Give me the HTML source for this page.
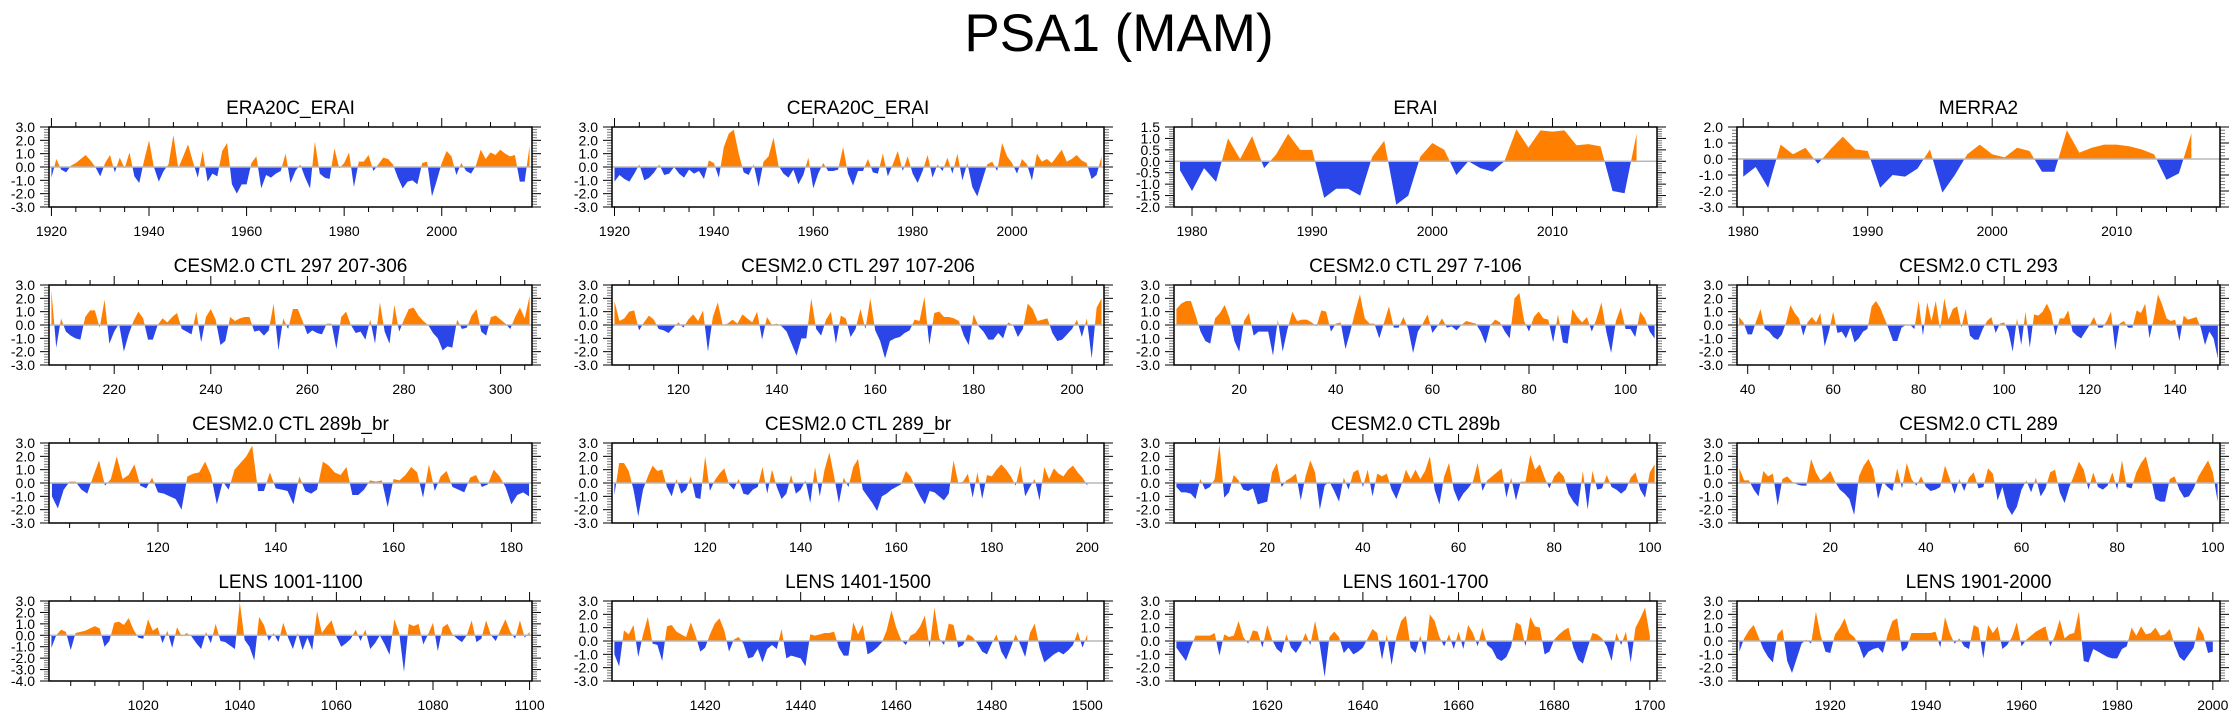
<!DOCTYPE html>
<html><head><meta charset="utf-8">
<style>
html,body{margin:0;padding:0;background:#fff;}
svg{display:block;font-family:"Liberation Sans",Arial,sans-serif;}
</style></head>
<body>
<svg id="chart" width="2238" height="719" viewBox="0 0 2238 719" xmlns="http://www.w3.org/2000/svg">
<rect width="2238" height="719" fill="#fff"/>
<text x="1119" y="51" font-size="53" text-anchor="middle" fill="#000">PSA1 (MAM)</text>
</svg>
<script>
// ---- data arrays ----
const titles = ["ERA20C_ERAI","CERA20C_ERAI","ERAI","MERRA2",
"CESM2.0 CTL 297 207-306","CESM2.0 CTL 297 107-206","CESM2.0 CTL 297 7-106","CESM2.0 CTL 293",
"CESM2.0 CTL 289b_br","CESM2.0 CTL 289_br","CESM2.0 CTL 289b","CESM2.0 CTL 289",
"LENS 1001-1100","LENS 1401-1500","LENS 1601-1700","LENS 1901-2000"];
const startYears = [1920,1920,1979,1980, 207,107,7,38, 102,101,1,1, 1001,1401,1601,1901];
const xRanges = [[1919.5,2018.5],[1919.5,2018.5],[1978.5,2018.7],[1979.5,2018.3],
[206.5,306.5],[106.5,206.5],[6.5,106.5],[37.5,150.5],
[101.5,183.5],[100.5,203.5],[0.5,101.5],[0.5,101.5],
[1000.5,1100.5],[1400.5,1503.5],[1600.5,1701.5],[1900.5,2001.5]];
const yRanges = [[-3,3,1],[-3,3,1],[-2,1.5,0.5],[-3,2,1],
[-3,3,1],[-3,3,1],[-3,3,1],[-3,3,1],
[-3,3,1],[-3,3,1],[-3,3,1],[-3,3,1],
[-4,3,1],[-3,3,1],[-3,3,1],[-3,3,1]];
const xTickSteps = [[20,5],[20,5],[10,2],[10,2],[20,5],[20,5],[20,5],[20,5],[20,5],[20,5],[20,5],[20,5],[20,5],[20,5],[20,5],[20,5]];

const s0 = [-0.8,0.6,-0.2,-0.4,0.1,0.3,0.6,0.9,0.5,0.0,-0.7,0.3,0.9,-0.4,0.7,-0.1,1.1,-0.7,-1.2,0.5,2.0,0.0,-1.1,-0.3,0.2,2.4,-0.1,0.8,1.7,0.4,-0.8,1.2,-1.1,-0.5,-0.7,1.2,1.8,-1.3,-2.0,-1.3,-1.3,0.3,0.8,-1.6,-0.6,-0.8,-0.5,-0.3,1.0,-1.2,-0.3,0.2,-0.8,-1.6,1.9,-0.5,-0.8,-0.9,1.4,-0.1,0.3,1.1,-1.5,0.4,0.4,0.9,-0.3,0.2,0.7,0.6,0.2,-0.8,-1.6,-1.1,-1.0,-1.3,0.3,0.4,-2.2,-1.0,0.3,1.2,0.8,-0.6,0.3,-0.3,-0.5,0.1,1.3,0.6,1.1,0.9,1.3,1.0,0.8,0.9,-1.1,-1.1,1.6];
const s1 = [-1.1,-0.6,-0.9,-1.1,-0.5,0.2,-1.0,-0.8,-0.4,0.2,-0.6,-0.5,0.0,-0.5,-0.8,-0.2,-0.5,-0.3,-0.9,0.5,
0.3,-0.8,1.5,2.5,2.8,1.0,-0.4,-0.6,0.2,-1.5,0.4,0.8,2.2,0.1,-0.5,-0.8,-0.2,-1.3,-0.6,0.7,
-1.6,-0.5,0.3,-0.3,-0.3,-0.2,1.5,-0.5,-1.4,-0.3,-0.3,0.6,-0.4,-0.5,1.0,-0.7,0.2,1.2,-0.3,0.8,
-0.5,-1.2,-0.3,0.9,-0.8,0.2,-0.3,0.7,-0.5,1.0,-1.0,0.3,-1.5,-2.2,-1.0,0.2,0.4,-0.3,1.8,0.8,
0.3,-0.5,0.6,0.2,-1.0,1.0,0.4,0.6,0.3,0.8,1.3,0.4,0.6,0.9,0.5,0.3,-0.9,-0.6,0.8];
const s2 = [-0.4,-1.3,-0.3,-0.9,1.0,0.1,1.1,-0.3,0.3,1.2,0.5,0.5,-1.6,-1.2,-1.2,-1.5,0.2,0.9,-1.9,-1.5,0.2,0.8,0.5,-0.6,0.0,-0.3,-0.45,0.0,1.4,0.6,1.35,1.3,1.35,0.7,0.75,0.65,-1.3,-1.4,1.2];
const s3 = [-1.1,-0.5,-1.8,0.9,0.3,0.7,-0.3,0.6,1.4,0.6,0.5,-1.8,-1.0,-1.1,-0.6,0.6,-2.1,-1.0,0.3,0.9,0.3,0.1,0.7,0.5,-0.8,-0.8,1.8,0.4,0.7,0.9,0.9,0.8,0.6,0.3,-1.3,-0.9,1.6];
const s4 = [2.6,-1.7,0.5,-0.5,-0.8,-1.0,-1.1,0.6,1.1,1.1,-0.2,1.9,-1.4,-0.5,0.1,-2.0,-0.7,0.3,1.0,0.5,-1.1,-1.1,0.0,0.5,0.2,0.6,0.9,-0.3,-0.5,-0.7,1.0,-1.3,0.6,1.2,0.4,-1.5,-1.2,0.6,0.3,0.5,0.6,0.6,-0.5,-0.4,-0.8,-0.4,1.6,-1.9,0.5,-0.3,1.2,1.2,0.3,-0.7,-0.4,-0.6,-0.7,0.1,0.1,-1.8,0.6,1.0,0.0,-0.6,-0.5,-1.1,0.4,-1.4,1.7,-0.5,-1.4,1.5,-0.5,0.4,1.2,1.3,0.7,0.3,0.0,-0.6,-1.0,-1.9,-1.6,-1.7,0.4,-0.3,-0.2,0.7,1.2,-0.5,-0.8,0.6,0.7,0.4,0.1,-0.3,0.6,1.3,0.5,2.2];
const s5 = [1.8,0.3,0.5,1.0,1.1,-0.4,0.2,0.7,0.4,-0.3,-0.4,-0.6,-0.2,0.2,-0.2,0.4,0.8,0.3,1.1,-2.0,0.6,1.7,0.0,0.1,0.4,0.1,0.8,0.5,0.2,1.0,-1.1,0.6,0.0,0.1,-0.1,-0.5,-1.4,-2.3,-1.0,-1.0,2.0,-0.3,-0.8,0.4,1.0,-1.4,0.7,0.5,-0.9,-0.3,1.2,-0.3,2.0,-0.4,-1.2,-2.5,-1.2,-1.0,-0.9,-0.6,-0.4,0.4,0.3,2.1,-1.5,0.9,1.0,0.6,0.6,0.5,0.3,-0.8,-1.5,0.8,-0.1,-0.5,-1.1,-1.1,-0.6,-1.0,0.2,0.0,-0.9,-0.3,1.6,1.2,0.3,0.4,0.5,-0.6,-1.2,-1.1,-0.7,-0.3,0.4,-0.9,0.5,-2.5,1.3,2.0];
const s6 = [1.2,1.6,1.8,1.8,0.7,-0.5,-1.2,-1.4,0.5,0.9,1.5,0.5,-1.2,-2.0,0.3,0.9,-0.8,-0.5,-0.5,-0.5,-2.3,0.4,-2.0,-0.3,1.0,0.3,0.4,0.4,0.2,-0.1,1.1,1.0,-0.5,0.1,0.2,-1.8,-0.5,1.0,2.3,0.5,0.1,0.1,-1.0,0.2,1.4,-0.2,-0.2,0.6,-0.3,-2.1,-0.5,0.1,0.8,-0.6,-0.1,0.5,-0.2,-0.1,-0.4,0.0,0.3,0.2,0.1,-0.5,-1.4,0.0,0.4,0.2,-0.5,-1.0,2.0,2.4,0.3,-0.5,0.6,1.0,0.5,0.4,-1.3,0.8,-1.3,-1.4,1.2,0.6,0.2,0.6,-0.5,0.5,1.7,-0.5,-2.1,0.3,1.3,-0.3,-0.3,-0.9,1.0,0.5,-0.5,-1.0];
const s7 = [0.6,0.2,-0.7,-0.7,0.3,1.2,-0.3,-0.5,-0.9,-1.1,-0.7,0.2,1.5,0.9,0.5,-0.8,0.2,0.6,0.2,0.9,-1.6,-0.5,1.0,-0.6,-0.5,-1.0,-0.2,-1.3,-1.0,-0.5,-0.3,1.4,1.8,1.3,0.5,-0.3,-1.2,-1.2,-0.2,0.0,0.0,-0.3,1.8,-0.8,1.7,0.3,1.8,-0.3,2.0,0.4,1.2,1.4,-0.2,1.2,-0.8,-1.1,-1.1,-0.3,0.3,0.6,-0.6,0.1,0.2,-0.5,-2.0,0.5,-1.5,1.0,-1.7,0.8,0.7,1.0,1.6,0.9,-0.8,0.5,0.5,1.1,-0.5,-0.8,-1.0,-0.5,0.0,0.6,-0.2,-0.2,0.3,1.0,-1.9,0.1,0.3,-0.2,-0.2,1.1,0.9,1.6,-1.0,0.5,2.3,1.5,0.5,0.3,0.4,-1.2,0.7,0.4,0.5,0.6,-0.2,-1.5,-0.5,-1.0,-2.5];
const s8 = [-1.0,-1.9,-0.5,0.1,0.1,-0.5,-0.8,0.5,1.7,-0.2,0.3,2.0,0.3,0.6,1.4,-0.2,-0.4,0.4,-0.7,-0.8,-1.0,-1.2,-2.0,0.5,0.7,0.8,1.6,0.6,-1.6,0.1,-0.5,1.0,1.5,2.0,2.8,-0.6,-0.6,0.8,-0.4,-0.5,-0.6,-1.6,0.5,-0.6,-0.8,-0.5,1.6,1.3,0.8,0.6,1.2,-0.9,-0.9,-0.5,0.2,0.1,0.2,-1.8,0.3,0.2,0.6,1.2,0.8,-1.1,1.4,-0.6,0.5,0.9,-0.3,-0.5,-0.7,0.4,0.6,-0.3,-0.1,1.0,0.5,-0.3,-1.6,-0.9,-0.7,-1.0];
const s9 = [-0.9,1.5,1.5,0.9,-0.5,-2.5,-0.5,0.5,1.3,0.9,1.0,-0.3,-1.0,0.3,-0.8,-0.5,0.5,-1.1,-1.2,2.0,-0.6,0.2,0.7,1.1,-0.1,-0.5,0.3,-0.8,-0.9,-0.5,-0.3,1.2,-0.8,1.0,-0.3,-1.2,-0.8,0.6,-0.8,-0.5,0.2,-1.5,1.2,-1.0,1.0,2.3,0.5,-1.5,0.4,-0.3,1.2,1.8,-0.5,-1.0,-1.5,-2.1,-1.0,-0.8,-0.5,-0.3,-0.1,0.9,0.5,-0.3,-1.0,-1.6,-0.6,-0.7,-1.0,-1.3,-0.8,1.7,0.0,0.1,0.7,-1.1,0.8,-1.2,0.6,0.5,1.0,1.4,1.0,0.5,-0.2,1.3,-1.0,-0.3,0.3,-1.3,1.2,0.3,1.1,0.7,0.5,1.0,1.3,0.8,0.4,-0.2];
const s10 = [-0.3,-0.7,-0.7,-0.8,-1.2,0.3,-0.5,-0.3,0.3,2.9,-1.1,-0.7,0.6,0.2,-0.5,-0.6,-0.4,-1.6,-1.5,-1.4,0.8,1.5,-0.3,0.2,0.4,0.7,-1.3,0.5,1.7,0.8,-2.0,-0.2,0.1,-0.6,-1.4,0.4,-0.5,0.8,1.0,-0.3,1.0,-1.0,0.7,0.5,0.7,-0.5,-1.2,-0.2,1.0,0.3,1.0,0.3,0.9,2.0,-0.5,-1.6,0.5,1.5,-0.5,-1.4,-0.8,-0.4,0.1,1.5,-0.6,0.2,0.5,0.8,1.1,-1.1,0.4,-1.3,0.1,0.1,2.1,1.0,1.4,0.4,-0.4,0.5,0.9,0.5,-0.8,-1.4,-1.8,0.9,-2.0,0.9,-0.5,-0.4,0.6,-0.3,-0.5,-0.8,-0.5,0.4,0.8,-0.5,-1.1,0.8,1.4];
const s11 = [1.1,0.2,0.2,-0.5,-1.0,0.9,0.5,0.7,-1.7,0.3,0.5,0.1,-0.1,-0.2,-0.2,1.8,0.8,0.2,0.5,0.9,0.1,-0.5,-0.8,-1.2,-2.4,0.5,1.3,1.8,1.0,-1.2,0.1,-0.3,-0.6,1.1,-0.4,1.5,0.3,-0.2,0.5,-0.3,-0.6,-0.5,-0.3,1.3,0.3,-0.8,0.3,-0.6,0.4,0.8,-0.4,-0.3,1.1,0.7,-1.3,-0.3,-1.8,-2.4,-1.8,-0.5,0.2,-0.7,0.4,-1.0,-0.4,0.8,1.0,-0.7,-1.5,-0.3,0.6,1.6,1.0,-0.5,0.8,-0.3,-0.5,-0.2,0.8,-0.5,1.7,-0.3,-0.4,0.8,1.5,2.0,0.5,-1.2,-1.4,-1.4,0.3,0.5,-0.5,-1.1,-1.0,-0.4,0.5,1.1,1.7,0.8,-1.4];
const s12 = [-1.1,0.0,0.5,0.3,-1.3,0.2,0.3,0.4,0.6,0.8,0.6,-1.0,-0.5,1.1,1.2,0.9,1.5,0.5,-0.2,-0.3,1.4,0.4,0.7,-0.7,0.4,-1.1,0.7,-0.1,0.2,-0.1,-0.7,-1.2,0.3,-0.7,1.0,-0.5,-0.6,-0.9,-1.2,2.9,-0.4,-1.0,-2.2,1.6,0.9,-0.5,0.2,-0.6,1.1,-0.2,-1.2,0.2,-1.3,-0.2,-1.3,2.1,0.2,0.8,1.3,-0.1,-1.0,-0.7,-0.3,0.5,-0.5,0.5,-1.2,-0.7,0.0,-0.8,-1.7,1.4,0.2,-3.2,1.0,0.8,1.0,-0.8,0.1,1.1,-1.4,0.7,1.0,0.1,-0.3,-0.6,0.0,1.3,-0.6,-0.3,1.3,0.0,-0.5,0.5,1.4,0.3,-0.3,1.3,-0.2,0.3];
const s13 = [-1.0,-1.9,0.8,0.5,1.2,-1.2,0.5,1.8,-0.2,-0.3,-1.5,1.1,1.2,0.7,0.5,0.3,1.4,0.4,-0.8,-0.5,0.5,1.3,1.7,0.8,-0.8,0.1,0.3,-0.2,-1.3,-1.2,-0.6,-1.6,-0.6,-0.3,-0.6,0.9,-1.3,-1.1,-1.2,-1.3,-1.9,0.5,0.4,0.5,0.6,0.6,0.7,-0.5,-1.1,-1.1,1.4,0.5,1.2,-1.0,-0.8,-0.5,-0.1,0.8,2.3,1.0,0.1,-0.3,0.4,0.6,1.1,1.9,-0.5,2.5,0.2,-0.3,1.3,1.2,-0.5,-0.3,0.5,0.3,-0.2,-0.8,-1.0,-0.2,0.5,-0.8,-1.4,-0.5,0.5,-0.3,-1.2,0.6,1.3,-0.5,-1.6,-1.3,-1.0,-0.8,-1.0,-0.7,-0.3,0.7,-0.5,0.5];
const s14 = [-0.5,-1.0,-1.5,-0.5,0.4,0.4,0.4,0.4,0.6,-1.1,0.5,0.3,0.4,1.5,0.3,-0.2,0.8,0.7,-0.5,1.2,0.1,-0.6,-0.9,0.5,-0.5,-0.9,-0.3,0.6,-0.3,1.5,-0.3,-2.7,0.3,0.7,0.3,-0.9,-0.5,-1.0,-0.8,-0.5,0.2,0.9,0.6,-1.4,0.5,-1.8,0.3,1.5,1.9,-0.5,-0.9,0.4,-1.1,2.0,1.5,0.3,-0.4,0.5,-0.6,0.7,-0.6,1.2,0.6,-0.4,1.0,-0.3,-0.6,-1.3,-1.5,-1.2,-0.4,1.4,1.2,-0.4,1.8,1.1,1.0,-1.0,-0.8,0.1,0.5,0.8,1.0,-0.5,-1.4,-1.7,-0.5,0.6,0.5,0.2,-0.4,-1.5,0.6,-0.3,0.7,-1.6,1.0,1.7,2.5,0.4];
const s15 = [-0.8,0.2,0.8,1.2,0.3,-0.6,-1.2,-1.6,0.5,0.9,-1.5,-2.4,-1.3,-0.2,0.1,-0.2,2.2,0.4,-0.8,-0.9,0.5,1.0,1.7,0.6,0.3,-0.3,-1.3,-0.8,-0.6,-0.5,-0.9,0.5,1.5,1.7,-0.8,-0.5,0.6,0.6,0.6,0.6,0.6,0.7,-0.5,1.8,0.6,-0.2,0.2,-0.4,-0.6,1.2,1.0,-1.3,1.2,0.6,1.1,-0.6,-0.3,0.3,1.4,-0.4,0.1,0.4,0.7,0.9,1.1,-0.4,0.4,1.6,0.2,0.5,0.6,2.2,-1.5,-1.6,-0.6,-0.8,-1.0,-1.2,-1.3,-1.3,-0.6,-0.4,1.0,0.4,1.1,0.5,0.6,1.0,0.4,0.5,0.9,-0.3,-1.2,-1.5,-1.0,-0.5,1.1,0.5,-0.9,-0.8];
const seriesList = [s0,s1,s2,s3,s4,s5,s6,s7,s8,s9,s10,s11,s12,s13,s14,s15];

// ---- layout ----
const colLeft = [49,612,1174,1737];
const colWidth = [483,492,483,483];
const rowTop = [127,285,443,601];
const boxH = 80;
const NS = "http://www.w3.org/2000/svg";
const svg = document.getElementById('chart');
function mk(tag, attrs, parent){
  const e = document.createElementNS(NS, tag);
  for (const k in attrs) e.setAttribute(k, attrs[k]);
  (parent||svg).appendChild(e);
  return e;
}
function fmt(v){ const s=v.toFixed(1); return s==="-0.0"?"0.0":s; }

for (let p=0; p<16; p++){
  const r = Math.floor(p/4), c = p%4;
  const L = colLeft[c], W = colWidth[c], T = rowTop[r], B = T+boxH;
  const [x0,x1] = xRanges[p];
  const [ymin,ymax,ystep] = yRanges[p];
  const xs = v => L + (v-x0)/(x1-x0)*W;
  const ys = v => B - (v-ymin)/(ymax-ymin)*boxH;
  const g = mk('g', {});
  
  

  const t = mk('text', {x: L+W/2, y: T-13, 'font-size': 19, 'text-anchor':'middle', fill:'#000'}, g);
  t.textContent = titles[p];
  
  

  const data = seriesList[p];
  const y0 = ys(0);
  let d = 'M' + xs(startYears[p]) + ',' + y0;
  data.forEach((v,i)=>{ d += ' L' + xs(startYears[p]+i).toFixed(2) + ',' + ys(v).toFixed(2); });
  d += ' L' + xs(startYears[p]+data.length-1).toFixed(2) + ',' + y0 + ' Z';
  const cpA = mk('clipPath', {id:'ca'+p}, g); mk('rect', {x:L, y:T, width:W, height:y0-T}, cpA);
  const cpB = mk('clipPath', {id:'cb'+p}, g); mk('rect', {x:L, y:y0, width:W, height:B-y0}, cpB);
  const pa = mk('path', {d:d, fill:'#ff8000', 'clip-path':'url(#ca'+p+')'}, g);
  
  
  const pb = mk('path', {d:d, fill:'#2a46e8', 'clip-path':'url(#cb'+p+')'}, g);
  
  
  const zl = mk('line', {x1:L, x2:L+W, y1:y0, y2:y0, stroke:'#b8b8b8', 'stroke-width':1.5}, g);
  
  

  const nMinor = 5;
  for (let k=0; k*ystep/nMinor <= (ymax-ymin)+1e-9; k++){
    const v = ymin + k*ystep/nMinor;
    const yy = ys(v);
    const major = (k % nMinor === 0);
    const len = major ? 9 : 5;
    mk('line', {x1:L, x2:L-len, y1:yy, y2:yy, stroke: major?'#000':'#777', 'stroke-width':1}, g);
    mk('line', {x1:L+W, x2:L+W+len, y1:yy, y2:yy, stroke: major?'#000':'#777', 'stroke-width':1}, g);
    if (major){
      const lb = mk('text', {x:L-14, y:yy+5, 'font-size':14, 'text-anchor':'end', fill:'#000'}, g);
      lb.textContent = fmt(v);
      
      
    }
  }
  const [maj, mnr] = xTickSteps[p];
  for (let v = Math.ceil(x0/mnr)*mnr; v <= x1; v += mnr){
    const xx = xs(v);
    const major = (v % maj === 0);
    const len = major ? 9 : 5;
    mk('line', {x1:xx, x2:xx, y1:B, y2:B+len, stroke:'#000', 'stroke-width':1}, g);
    mk('line', {x1:xx, x2:xx, y1:T, y2:T-len, stroke:'#000', 'stroke-width':1}, g);
    if (major){
      const lb = mk('text', {x:xx, y:B+29, 'font-size':14, 'text-anchor':'middle', fill:'#000'}, g);
      lb.textContent = String(v);
      
      
    }
  }
  const frame = mk('rect', {x:L, y:T, width:W, height:boxH, fill:'none', stroke:'#000', 'stroke-width':1.5}, g);
  
  
}
</script>
</body></html>
